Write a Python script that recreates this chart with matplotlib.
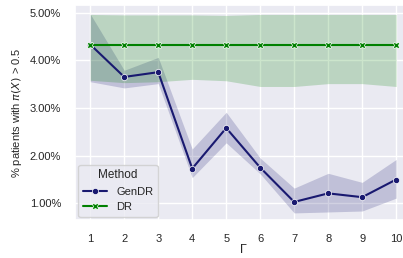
import matplotlib
matplotlib.use("Agg")
import matplotlib.pyplot as plt
import seaborn as sns
from matplotlib.ticker import PercentFormatter

# values in percent
gamma = [1, 2, 3, 4, 5, 6, 7, 8, 9, 10]

gendr_mean = [4.33, 3.65, 3.75, 1.73, 2.58, 1.75, 1.03, 1.21, 1.13, 1.50]
gendr_low = [3.55, 3.42, 3.51, 1.54, 2.27, 1.62, 0.80, 0.82, 0.84, 1.11]
gendr_high = [4.97, 3.79, 4.06, 2.14, 2.91, 1.95, 1.32, 1.63, 1.44, 1.92]

dr_mean = [4.33, 4.33, 4.33, 4.33, 4.33, 4.33, 4.33, 4.33, 4.33, 4.33]
dr_low = [3.58, 3.53, 3.55, 3.60, 3.57, 3.45, 3.45, 3.51, 3.51, 3.45]
dr_high = [4.96, 4.95, 4.95, 4.95, 4.94, 4.96, 4.96, 4.96, 4.96, 4.96]

sns.set_theme(style="darkgrid")
plt.rcParams['font.family'] = ['Liberation Sans', 'DejaVu Sans']

fig = plt.figure(figsize=(4.03, 2.58), dpi=100)
ax = fig.add_axes([0.186, 0.147, 0.835, 0.834])

blue = "midnightblue"
green = "green"

ax.fill_between(gamma, gendr_low, gendr_high, color=blue, alpha=0.2, linewidth=0)
ax.fill_between(gamma, dr_low, dr_high, color=green, alpha=0.2, linewidth=0)
ax.plot(gamma, gendr_mean, color=blue, marker="o", markersize=4.5, linewidth=1.5,
        markeredgecolor="white", markeredgewidth=0.5, label="GenDR")
ax.plot(gamma, dr_mean, color=green, marker="X", markersize=4.5, linewidth=1.5,
        markeredgecolor="white", markeredgewidth=0.5, label="DR")

ax.set_xlim(0.55, 10.45)
ax.set_ylim(0.65, 5.16)
ax.set_xticks(gamma)
ax.set_yticks([1, 2, 3, 4, 5])
ax.yaxis.set_major_formatter(PercentFormatter(decimals=2))
ax.tick_params(labelsize=8, pad=4)

ax.set_xlabel("Γ", fontsize=9, labelpad=0)
ax.set_ylabel(r"% patients with $\pi(X)$ > 0.5", fontsize=8)

ax.legend(title="Method", loc="lower left", fontsize=8, title_fontsize=8.5,
          borderaxespad=0.3, handlelength=2.2)

fig.savefig("out.png", dpi=100)
